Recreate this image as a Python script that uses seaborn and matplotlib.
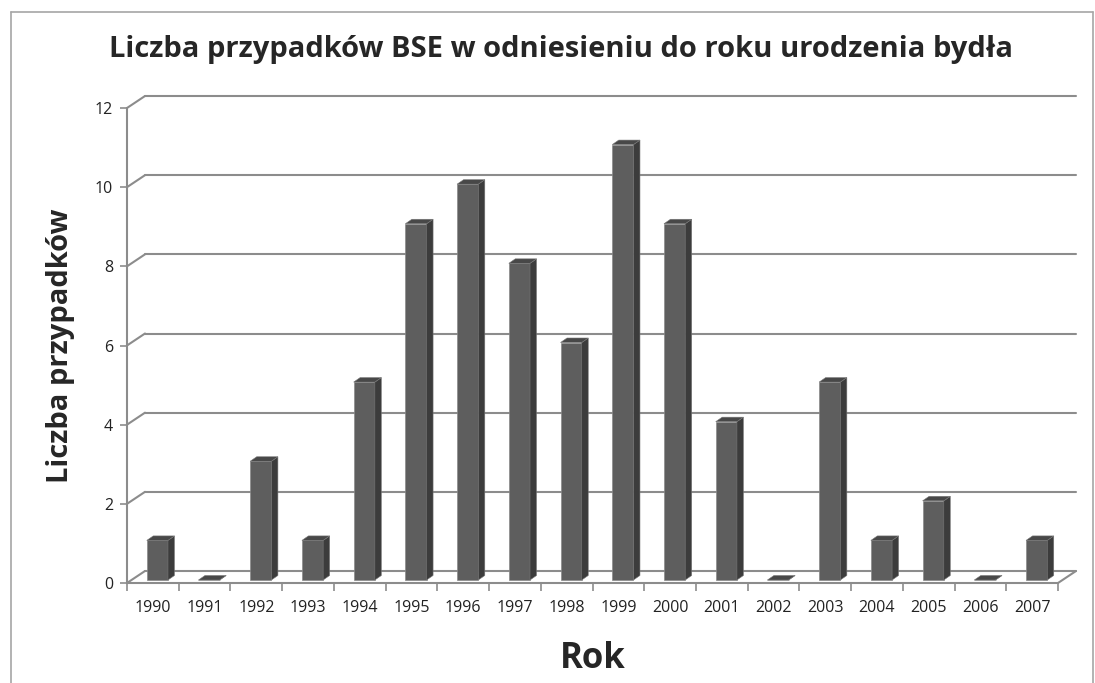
import matplotlib
import numpy as np
import pandas as pd
import seaborn as sns
from matplotlib.lines import Line2D
from matplotlib.patches import Polygon

matplotlib.use("Agg")
import matplotlib.pyplot as plt


years = [str(y) for y in range(1990, 2008)]
cases = [1, 0, 3, 1, 5, 9, 10, 8, 6, 11, 9, 4, 0, 5, 1, 2, 0, 1]
y_ticks = [0, 2, 4, 6, 8, 10, 12]

TITLE = "Liczba przypadków BSE w odniesieniu do roku urodzenia bydła"
FONT = ["Open Sans", "DejaVu Sans"]

GRID = "#8c8c8c"
FRONT = "#5e5e5e"
SIDE = "#3c3c3c"
TOP = "#484848"

W, H = 1095, 683
AX_L, AX_R, AX_T, AX_B = 127, 1058, 108, 583


def px_to_data(ax, dx_px, dy_px):
    x0, x1 = ax.get_xlim()
    y0, y1 = ax.get_ylim()
    return dx_px * (x1 - x0) / (AX_R - AX_L), dy_px * (y1 - y0) / (AX_B - AX_T)


sns.set_theme(style="white")
plt.rcParams["font.family"] = FONT

fig = plt.figure(figsize=(W / 100, H / 100), dpi=100)
ax = fig.add_axes([AX_L / W, 1 - AX_B / H, (AX_R - AX_L) / W, (AX_B - AX_T) / H])

df = pd.DataFrame({"Rok": years, "Liczba": cases})
sns.barplot(data=df, x="Rok", y="Liczba", color=FRONT, width=0.41, saturation=1,
            edgecolor="#8a8a8a", linewidth=0.5, ax=ax, zorder=5)

ax.set_xlim(-0.5, len(years) - 0.5)
ax.set_ylim(0, 12)
for s in ax.spines.values():
    s.set_visible(False)

# back wall / floor offset and bar depth
wall_dx, wall_dy = px_to_data(ax, 18, 12)
shift_dx, shift_dy = px_to_data(ax, 4.5, 3)
depth_dx, depth_dy = px_to_data(ax, 6.5, 4.5)
x_lo, x_hi = ax.get_xlim()

for v in y_ticks:
    ax.add_line(Line2D([x_lo + wall_dx, x_hi + wall_dx], [v + wall_dy, v + wall_dy],
                       color=GRID, lw=1.5, clip_on=False, zorder=1))
    ax.add_line(Line2D([x_lo, x_lo + wall_dx], [v, v + wall_dy],
                       color=GRID, lw=1.5, clip_on=False, zorder=1))

# floor front edge and right edge
ax.add_line(Line2D([x_lo, x_hi], [0, 0], color=GRID, lw=1.5, clip_on=False, zorder=2))
ax.add_line(Line2D([x_hi, x_hi + wall_dx], [0, wall_dy], color=GRID, lw=1.5,
                   clip_on=False, zorder=2))
# y axis line
ax.add_line(Line2D([x_lo, x_lo], [0, 12], color=GRID, lw=1.5, clip_on=False, zorder=2))

# pseudo-3D bars
for p in ax.patches:
    p.set_x(p.get_x() + shift_dx)
    p.set_y(shift_dy)
    x0 = p.get_x()
    x1 = x0 + p.get_width()
    y0 = p.get_y()
    y1 = y0 + p.get_height()
    side = Polygon([(x1, y0), (x1 + depth_dx, y0 + depth_dy), (x1 + depth_dx, y1 + depth_dy), (x1, y1)],
                   closed=True, facecolor=SIDE, edgecolor="#777777", lw=0.4, zorder=5, clip_on=False)
    top = Polygon([(x0, y1), (x0 + depth_dx, y1 + depth_dy), (x1 + depth_dx, y1 + depth_dy), (x1, y1)],
                  closed=True, facecolor=TOP, edgecolor="#777777", lw=0.4, zorder=5, clip_on=False)
    ax.add_patch(side)
    ax.add_patch(top)
    p.set_clip_on(False)

# ticks
ax.set_yticks(y_ticks)
ax.tick_params(axis="y", length=5, width=1.2, color=GRID, left=True, labelsize=11.5,
               labelcolor="#222222", pad=5)
ax.set_xticks(np.arange(len(years)))
ax.set_xticklabels(years)
ax.tick_params(axis="x", which="major", length=0, labelsize=11.5, labelcolor="#222222", pad=12)
ax.set_xticks(np.arange(len(years) + 1) - 0.5, minor=True)
ax.tick_params(axis="x", which="minor", length=6, width=1.2, color=GRID, bottom=True)

ax.set_xlabel("Rok", fontsize=25, fontweight="bold", labelpad=18)
ax.set_ylabel("Liczba przypadków", fontsize=21, fontweight="bold", labelpad=14)

fig.text(0.512, 1 - 50 / H, TITLE, ha="center", va="center", fontsize=21, fontweight="bold")

# chart frame
fig.add_artist(Line2D([11 / W, 1093 / W], [1 - 12 / H, 1 - 12 / H], color="#a6a6a6", lw=1.2))
fig.add_artist(Line2D([11 / W, 11 / W], [0, 1 - 12 / H], color="#a6a6a6", lw=1.2))
fig.add_artist(Line2D([1093 / W, 1093 / W], [0, 1 - 12 / H], color="#a6a6a6", lw=1.2))

fig.savefig("out.png", dpi=100)
